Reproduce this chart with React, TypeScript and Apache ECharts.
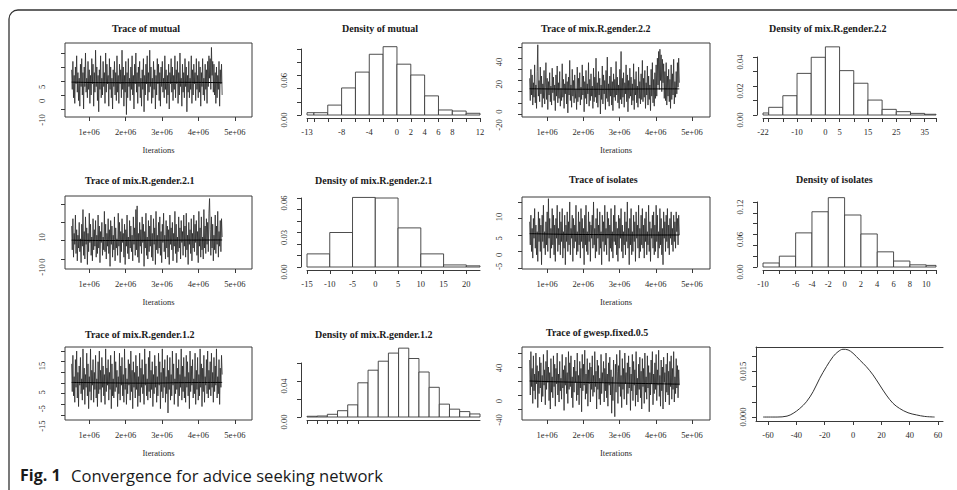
import { useEffect, useRef } from "react";
import * as echarts from "echarts";

// ---------- data ----------
const ITER_FIRST = 520000;
const ITER_LAST = 4650000;
const TRACE_X_TICKS = [1e6, 2e6, 3e6, 4e6, 5e6];

const traceMutual = [
  4, -3, 7, -6, 2, -8, 5, -1, 9, -4, 3, -7, 1, -9, 6, -2, 8, -5, 3, -10,
  5, -2, 10, -4, 1, -6, 7, -3, 4, -8, 2, -5, 8, -1, 6, -9, 3, -4, 11, -2,
  5, -7, 2, -11, 4, -3, 9, -6, 1, -5, 7, -2, 3, -8, 10, -4, 6, -1, 2, -9,
  8, -3, 5, -6, 1, -10, 4, -2, 7, -5, 3, -7, 9, -4, 2, -8, 6, -1, 4, -6,
  11, -3, 5, -9, 2, -4, 7, -12, 3, -6, 8, -2, 1, -7, 5, -3, 9, -5, 2, -10,
  6, -1, 10, -4, 3, -8, 5, -2, 7, -6, 1, -9, 4, -3, 8, -11, 2, -5, 6, -1,
  9, -7, 3, -4, 11, -2, 5, -8, 1, -6, 7, -3, 4, -10, 2, -5, 8, -1, 6, -7,
  3, -9, 5, -2, 7, -4, 1, -6, 9, -3, 4, -8, 2, -5, 6, -10, 3, -1, 8, -4,
  5, -7, 2, -3, 9, -6, 4, -1, 7, -8, 3, -5, 10, -2, 1, -9, 6, -4, 3, -6,
  8, -2, 5, -11, 2, -4, 7, -6, 1, -3, 9, -8, 4, -5, 6, -1, 3, -7, 8, -3,
  2, -6, 7, -4, 5, -9, 3, -2, 8, -5, 1, -7, 6, -3, 4, -8, 7, -2, 9, 1,
  8, -3, 12, 2, 7, -4, 6, -5, 3, -8, 5, -6, 2, -3, 7, -9, 4, -1, 6, -5,
];
const smoothMutual = [-0.4, -0.6, -0.6, -0.5, -0.6];

const traceG22 = [
  12, -8, 20, -3, 15, -12, 8, -5, 24, -10, 6, -15, 18, 42, -4, 10, -9, 22, -2, 14,
  -14, 7, -6, 19, -11, 4, 26, -7, 12, -16, 9, -3, 17, -9, 5, -12, 21, -1, 13, -8,
  6, -17, 15, -4, 23, -10, 8, -6, 18, -13, 3, -8, 25, -5, 11, -15, 7, -2, 16, -11,
  9, -19, 13, -3, 28, -8, 6, -14, 20, -4, 10, -10, 15, -6, 2, -16, 22, -9, 12, -5,
  17, -12, 4, -7, 24, -3, 14, -18, 9, -6, 19, -11, 7, -2, 26, -13, 11, -8, 16, -4,
  5, -15, 21, -9, 13, -5, 30, -10, 8, -14, 18, -3, 12, -20, 6, -7, 23, -11, 15, -2,
  10, -16, 19, -6, 31, -9, 7, -13, 14, -4, 22, -12, 9, -17, 16, -5, 11, -8, 27, -3,
  13, -10, 6, -15, 20, -7, 36, -11, 12, -5, 17, -14, 8, -2, 24, -9, 15, -18, 10, -6,
  21, -4, 13, -12, 7, -8, 25, -16, 11, -3, 18, -10, 5, -14, 22, -6, 9, -11, 16, -7,
  28, -9, 12, -5, 19, -15, 8, -3, 23, -12, 14, -7, 6, -17, 20, -4, 26, -10, 11, -13,
  17, -6, 24, -4, 30, 6, 36, 2, 38, 10, 33, 0, 29, 8, 25, -6, 18, -8, 26, -12,
  14, -4, 20, -9, 11, -15, 24, -7, 16, -3, 29, -11, 9, -5, 18, -2, 26, 4, 30, 8,
];
const smoothG22 = [2.6, 2.3, 2.2, 2.4, 2.5];

const traceG21 = [
  8, -5, 12, -9, 4, -2, 14, -7, 6, -11, 3, -4, 10, -6, 1, -12, 9, -3, 17, -8,
  5, -10, 13, -2, 7, -13, 4, -6, 15, -1, 9, -8, 2, -11, 12, -5, 6, -3, 11, -9,
  3, -7, 14, -4, 8, -12, 5, -1, 10, -8, 2, -5, 16, -6, 9, -10, 4, -3, 12, -7,
  6, -14, 11, -2, 8, -9, 3, -5, 13, -11, 7, -4, 1, -8, 15, -3, 10, -12, 5, -6,
  12, -1, 4, -9, 9, -13, 6, -3, 14, -7, 2, -10, 11, -4, 8, -6, 3, -11, 13, -2,
  7, -8, 17, -5, 19, -9, 4, -12, 10, -3, 6, -7, 13, -1, 9, -14, 5, -4, 15, -8,
  2, -10, 11, -6, 8, -3, 14, -9, 4, -11, 12, -2, 7, -13, 16, -5, 3, -7, 10, -4,
  13, -8, 5, -12, 9, -1, 15, -6, 3, -10, 11, -4, 8, -9, 6, -13, 14, -2, 7, -5,
  10, -11, 4, -3, 16, -7, 9, -12, 2, -6, 13, -4, 7, -10, 11, -1, 5, -8, 14, -3,
  8, -9, 15, -5, 3, -13, 10, -2, 6, -7, 12, -11, 4, -4, 14, -6, 9, -1, 11, -8,
  5, -12, 16, -3, 7, -9, 13, -5, 2, -10, 17, -4, 8, -7, 12, -2, 10, -6, 15, 23,
  6, -8, 13, -4, 9, -11, 3, -5, 14, -7, 8, -2, 16, -9, 5, -3, 11, -6, 12, 2,
];
const smoothG21 = [0.3, 0.1, 0.2, 0.3, 0.4];

const traceIsolates = [
  4, -3, 6, -5, 2, -7, 5, -1, 8, -4, 3, -6, 1, -8, 7, -2, 5, -5, 3, -9,
  6, -2, 9, -4, 1, -6, 4, -3, 7, -5, 11, -1, 5, -7, 2, -4, 8, -3, 6, -6,
  3, -8, 5, -1, 9, -5, 2, -3, 7, -6, 4, -2, 8, -7, 1, -4, 6, -9, 3, -2,
  7, -5, 4, -3, 10, -6, 2, -1, 6, -8, 5, -4, 3, -2, 9, -6, 1, -5, 7, -3,
  4, -7, 8, -2, 5, -4, 2, -9, 6, -3, 9, -5, 1, -6, 7, -2, 4, -8, 3, -1,
  6, -4, 10, -3, 2, -7, 5, -5, 8, -1, 3, -6, 7, -4, 1, -9, 6, -2, 4, -5,
  9, -3, 2, -6, 7, -1, 5, -8, 3, -4, 8, -5, 1, -7, 6, -2, 9, -3, 4, -6,
  2, -8, 6, -4, 5, -1, 8, -5, 3, -7, 1, -3, 7, -6, 4, -2, 10, -4, 2, -9,
  5, -3, 8, -6, 1, -5, 6, -2, 4, -8, 7, -1, 3, -4, 9, -7, 2, -5, 6, -3,
  8, -4, 3, -7, 5, -2, 7, -6, 1, -3, 9, -5, 4, -8, 2, -1, 6, -4, 7, -6,
  3, -5, 9, -2, 6, -7, 1, -4, 8, -3, 5, -6, 2, -9, 7, -1, 4, -5, 6, -2,
  8, -4, 3, -6, 5, -1, 7, -3, 2, -5, 6, -2, 4, -4, 7, 1, 5, -3, 6, 0,
];
const smoothIsolates = [0.4, 0.2, 0.1, 0.0, 0.0];

const traceG12 = [
  9, -4, 13, -6, 3, -9, 11, -2, 15, -7, 5, -11, 8, -1, 12, -5, 2, -8, 16, -3,
  7, -10, 4, -2, 14, -6, 9, -12, 3, -4, 16, -8, 6, -1, 11, -9, 5, -3, 13, -7,
  2, -11, 10, -5, 15, -3, 6, -9, 12, -2, 8, -6, 4, -10, 16, -4, 7, -1, 11, -8,
  5, -3, 13, -12, 9, -6, 2, -7, 15, -4, 10, -2, 6, -11, 3, -5, 14, -8, 8, -1,
  12, -6, 4, -9, 16, -3, 7, -10, 2, -5, 11, -1, 9, -8, 15, -4, 6, -12, 10, -2,
  5, -7, 13, -3, 8, -11, 3, -6, 14, -9, 7, -2, 11, -5, 4, -10, 16, -1, 9, -6,
  2, -8, 12, -4, 15, -7, 6, -3, 10, -11, 4, -5, 13, -2, 8, -9, 3, -6, 14, -1,
  10, -12, 5, -4, 16, -7, 7, -2, 11, -9, 3, -5, 13, -14, 6, -3, 12, -8, 4, -6,
  15, -1, 9, -10, 2, -5, 14, -3, 7, -11, 11, -6, 4, -2, 16, -8, 8, -4, 12, -7,
  3, -9, 13, -2, 10, -6, 5, -12, 15, -4, 8, -1, 11, -7, 2, -5, 14, -10, 6, -3,
  12, -8, 4, -6, 16, -2, 9, -11, 7, -4, 13, -9, 3, -1, 11, -5, 15, -7, 6, -3,
  10, -6, 14, -2, 5, -9, 12, -4, 8, -1, 16, -7, 3, -5, 11, -10, 7, -2, 13, 4,
];
const smoothG12 = [0.3, 0.1, 0.0, 0.2, 0.3];

const traceGwesp = [
  30, -20, 42, -8, 18, -32, 36, -14, 10, -26, 40, -4, 22, -38, 14, -18, 34, -10, 26, -30,
  8, -22, 38, -6, 16, -34, 28, -12, 44, -2, 20, -28, 12, -40, 32, -16, 6, -24, 36, -8,
  24, -36, 18, -4, 40, -20, 10, -30, 28, -14, 4, -26, 38, -10, 16, -42, 22, -6, 34, -18,
  12, -32, 42, -12, 26, -8, 36, -24, 6, -38, 20, -16, 30, -2, 14, -28, 40, -20, 8, -34,
  28, -10, 18, -44, 38, -14, 24, -6, 44, -26, 10, -18, 32, -36, 16, -4, 26, -30, 20, -12,
  36, -22, 8, -16, 42, -8, 14, -40, 30, -12, 22, -26, 4, -34, 38, -18, 12, -2, 28, -30,
  18, -14, 40, -24, 10, -36, 26, -6, 34, -20, 16, -46, 6, -28, 30, -10, -51, 24, -16, 38,
  14, -32, 22, -8, 44, -22, 8, -38, 32, -12, 18, -26, 40, -4, 12, -34, 26, -18, 36, -10,
  20, -42, 10, -14, 38, -28, 28, -6, 16, -36, 42, -20, 4, -30, 24, -12, 34, -24, 14, -40,
  32, -8, 18, -32, 40, -16, 6, -26, 36, -10, 22, -44, 12, -20, 30, -4, 42, -34, 10, -18,
  26, -12, 38, -28, 16, -6, 44, -22, 8, -36, 30, -14, 20, -40, 34, -2, 12, -30, 24, -16,
  40, -20, 14, -34, 28, -8, 36, -26, 18, -12, 42, -30, 6, -18, 32, -10, 22, -24, 16, -6,
];
const smoothGwesp = [0, -1.5, -2.5, -3.5, -4.5];

// histograms: bin edges and densities
const edgesMutual = [-13, -12, -10, -8, -6, -4, -2, 0, 2, 4, 6, 8, 10, 12];
const densMutual = [0.0035, 0.0035, 0.015, 0.041, 0.065, 0.092, 0.1035, 0.077, 0.0606, 0.029, 0.0076, 0.006, 0.0026];
const xTicksMutual = [-13, -12, -10, -8, -6, -4, -2, 0, 2, 4, 6, 8, 10, 12];
const xLabelsMutual = [-13, -8, -4, 0, 2, 4, 6, 8, 12];
const yTicksMutual = [0, 0.02, 0.04, 0.06, 0.08, 0.1];
const yLabelsMutual = [0, 0.06];

const edgesG22 = [-22, -20, -15, -10, -5, 0, 5, 10, 15, 20, 25, 30, 35, 39];
const densG22 = [0.0014, 0.0053, 0.0133, 0.0287, 0.0398, 0.047, 0.0306, 0.0219, 0.0103, 0.0039, 0.0023, 0.0011, 0.0005];
const xTicksG22 = [-22, -20, -15, -10, -5, 0, 5, 10, 15, 20, 25, 30, 35, 39];
const xLabelsG22 = [-22, -10, 0, 5, 15, 25, 35];
const yTicksG22 = [0, 0.01, 0.02, 0.03, 0.04];
const yLabelsG22 = [0, 0.02, 0.04];

const edgesG21 = [-15, -10, -5, 0, 5, 10, 15, 20, 23];
const densG21 = [0.0114, 0.03, 0.0605, 0.06, 0.034, 0.0114, 0.0018, 0.001];
const xTicksG21 = [-15, -10, -5, 0, 5, 10, 15, 20];
const xLabelsG21 = [-15, -10, -5, 0, 5, 10, 15, 20];
const yTicksG21 = [0, 0.01, 0.02, 0.03, 0.04, 0.05, 0.06];
const yLabelsG21 = [0, 0.03, 0.06];

const edgesIsolates = [-10, -8, -6, -4, -2, 0, 2, 4, 6, 8, 10, 11.2];
const densIsolates = [0.0074, 0.02, 0.063, 0.102, 0.128, 0.096, 0.061, 0.028, 0.011, 0.004, 0.003];
const xTicksIsolates = [-10, -8, -6, -4, -2, 0, 2, 4, 6, 8, 10, 11.2];
const xLabelsIsolates = [-10, -6, -4, -2, 0, 2, 4, 6, 8, 10];
const yTicksIsolates = [0, 0.02, 0.04, 0.06, 0.08, 0.1, 0.12];
const yLabelsIsolates = [0, 0.06, 0.12];

const edgesG12 = [-14, -12, -10, -8, -6, -4, -2, 0, 2, 4, 6, 8, 10, 12, 14, 16, 18, 20];
const densG12 = [0.0008, 0.0011, 0.003, 0.007, 0.0135, 0.038, 0.052, 0.062, 0.071, 0.0765, 0.065, 0.05, 0.033, 0.0143, 0.0087, 0.006, 0.0034];
const xTicksG12 = [-14, -12, -10, -8, -6, -4];
const yTicksG12 = [0, 0.02, 0.04, 0.06];
const yLabelsG12 = [0, 0.04];

const gwespDensX = [-63.5, -53.6, -46.6, -42.3, -37.6, -32.9, -28.2, -23.5, -18.8, -14.1, -10.6, -7.1, -3.5, 0, 4.7, 9.4, 14.1, 18.8, 23.5, 28.2, 32.9, 38.8, 44.7, 50.6, 57.6];
const gwespDensY = [0, 0, 0.0003, 0.0012, 0.0028, 0.005, 0.0083, 0.0127, 0.0165, 0.0198, 0.0214, 0.0222, 0.022, 0.0209, 0.0187, 0.0165, 0.0138, 0.0105, 0.0072, 0.0045, 0.0028, 0.0014, 0.0007, 0.0002, 0];
const xTicksGwesp = [-60, -40, -20, 0, 20, 40, 60];
const yTicksGwesp = [0, 0.005, 0.01, 0.015, 0.02];
const yLabelsGwesp = [0, 0.015];

// ---------- styling ----------
const FONT = "'Liberation Serif', 'DejaVu Serif', serif";
const SANS = "'Open Sans', 'Noto Sans', sans-serif";
const INK = "#3a3a3a";
const TXT = "#2a2a2a";
const FS = 8.5;

function richStyle(pad: number) {
  return { fontSize: FS, fontFamily: FONT, color: TXT, padding: [0, pad, 0, 0] };
}
const RICH = { s1: richStyle(40), s2: richStyle(30), s3: richStyle(22), s4: richStyle(10), s5: richStyle(0) };
function shifted(t: string) {
  return `{s${Math.min(t.length, 5)}|${t}}`;
}

type Trace = {
  title: string; values: number[]; smooth: number[];
  rect: number[]; xr: number[]; yr: number[]; yTicks: number[]; yLabels: number[];
  tx: number; ty: number;
};
type Hist = {
  title: string; edges: number[]; dens: number[]; rect: number[]; xr: number[]; yr: number[];
  xTicks: number[]; xLabels: number[]; yTicks: number[]; yLabels: number[]; tx: number; ty: number;
};

const traces: Trace[] = [
  { title: "Trace of mutual", values: traceMutual, smooth: smoothMutual, rect: [65, 43, 187, 74], xr: [338000, 5469000], yr: [-12.86, 13.57], yTicks: [-10, -5, 0, 5, 10], yLabels: [-10, 0, 5], tx: 112, ty: 28 },
  { title: "Trace of mix.R.gender.2.2", values: traceG22, smooth: smoothG22, rect: [522, 43, 188, 74], xr: [309000, 5497000], yr: [-22.7, 43.6], yTicks: [-20, -10, 0, 10, 20, 30, 40], yLabels: [-20, 0, 20, 40], tx: 541, ty: 28 },
  { title: "Trace of mix.R.gender.2.1", values: traceG21, smooth: smoothG21, rect: [65, 196, 187, 73], xr: [338000, 5469000], yr: [-15.45, 24.4], yTicks: [-10, 0, 10, 20], yLabels: [-10, 0, 10], tx: 85, ty: 180 },
  { title: "Trace of isolates", values: traceIsolates, smooth: smoothIsolates, rect: [522, 197, 188, 72], xr: [309000, 5497000], yr: [-10.3, 11.5], yTicks: [-10, -5, 0, 5, 10], yLabels: [-5, 0, 5, 10], tx: 569, ty: 179 },
  { title: "Trace of mix.R.gender.1.2", values: traceG12, smooth: smoothG12, rect: [65, 347, 187, 73], xr: [338000, 5469000], yr: [-17.3, 16.9], yTicks: [-15, -10, -5, 0, 5, 10, 15], yLabels: [-15, -5, 5, 15], tx: 85, ty: 334 },
  { title: "Trace of gwesp.fixed.0.5", values: traceGwesp, smooth: smoothGwesp, rect: [522, 347, 188, 73], xr: [309000, 5497000], yr: [-55.7, 48.6], yTicks: [-40, -20, 0, 20, 40], yLabels: [-40, 0, 40], tx: 546, ty: 332 },
];

const hists: Hist[] = [
  { title: "Density of mutual", edges: edgesMutual, dens: densMutual, rect: [307, 49, 173, 66], xr: [-13, 12], yr: [0, 0.1], xTicks: xTicksMutual, xLabels: xLabelsMutual, yTicks: yTicksMutual, yLabels: yLabelsMutual, tx: 342, ty: 28 },
  { title: "Density of mix.R.gender.2.2", edges: edgesG22, dens: densG22, rect: [763, 57, 173, 58], xr: [-22, 39], yr: [0, 0.04], xTicks: xTicksG22, xLabels: xLabelsG22, yTicks: yTicksG22, yLabels: yLabelsG22, tx: 769, ty: 28 },
  { title: "Density of mix.R.gender.2.1", edges: edgesG21, dens: densG21, rect: [307, 198, 173, 69], xr: [-15, 23], yr: [0, 0.06], xTicks: xTicksG21, xLabels: xLabelsG21, yTicks: yTicksG21, yLabels: yLabelsG21, tx: 315, ty: 180 },
  { title: "Density of isolates", edges: edgesIsolates, dens: densIsolates, rect: [763, 202, 173, 65], xr: [-10, 11.2], yr: [0, 0.12], xTicks: xTicksIsolates, xLabels: xLabelsIsolates, yTicks: yTicksIsolates, yLabels: yLabelsIsolates, tx: 796, ty: 179 },
  { title: "Density of mix.R.gender.1.2", edges: edgesG12, dens: densG12, rect: [307, 363, 173, 54], xr: [-14, 20], yr: [0, 0.06], xTicks: xTicksG12, xLabels: [], yTicks: yTicksG12, yLabels: yLabelsG12, tx: 315, ty: 334 },
];

function buildOption() {
  const grid: any[] = [];
  const xAxis: any[] = [];
  const yAxis: any[] = [];
  const series: any[] = [];
  const graphic: any[] = [];
  const tickStyle = { color: INK, width: 1 };
  const labelBase = { fontSize: FS, fontFamily: FONT, color: TXT };
  const titleStyle = { fontSize: 10, fontWeight: "bold", fontFamily: FONT, fill: "#1a1a1a", verticalAlign: "middle", align: "left" };

  traces.forEach((p) => {
    const gi = grid.length;
    grid.push({ left: p.rect[0], top: p.rect[1], width: p.rect[2], height: p.rect[3], show: true, borderColor: INK, borderWidth: 1, backgroundColor: "#fff", containLabel: false, outerBoundsMode: "none" });
    const xi = xAxis.length;
    xAxis.push({
      type: "value", gridIndex: gi, min: p.xr[0], max: p.xr[1],
      axisLine: { show: false, onZero: false }, splitLine: { show: false },
      axisTick: { show: true, inside: false, length: 4, lineStyle: tickStyle, customValues: TRACE_X_TICKS },
      axisLabel: { ...labelBase, margin: 10, customValues: TRACE_X_TICKS, formatter: (v: number) => `${Math.round(v / 1e6)}e+06` },
      name: "Iterations", nameLocation: "middle", nameGap: 28,
      nameTextStyle: { ...labelBase },
    });
    const yi = yAxis.length;
    yAxis.push({
      type: "value", gridIndex: gi, min: p.yr[0], max: p.yr[1],
      axisLine: { show: false, onZero: false }, splitLine: { show: false },
      axisTick: { show: true, inside: false, length: 4, lineStyle: tickStyle, customValues: p.yTicks },
      axisLabel: { ...labelBase, rotate: 90, margin: 19, customValues: p.yLabels, formatter: (v: number) => shifted(String(v)), rich: RICH },
    });
    const n = p.values.length;
    const step = (ITER_LAST - ITER_FIRST) / (n - 1);
    series.push({
      type: "line", xAxisIndex: xi, yAxisIndex: yi, symbol: "none", silent: true,
      lineStyle: { width: 0.8, color: "#2a2a2a" },
      data: p.values.map((v, i) => [ITER_FIRST + i * step, v]),
    });
    const sstep = (ITER_LAST - ITER_FIRST) / (p.smooth.length - 1);
    series.push({
      type: "line", xAxisIndex: xi, yAxisIndex: yi, symbol: "none", silent: true, smooth: true,
      lineStyle: { width: 1, color: "#000" }, z: 3,
      data: p.smooth.map((v, i) => [ITER_FIRST + i * sstep, v]),
    });
    graphic.push({ type: "text", x: p.tx, y: p.ty, silent: true, style: { text: p.title, ...titleStyle } });
  });

  hists.forEach((p) => {
    const gi = grid.length;
    grid.push({ left: p.rect[0], top: p.rect[1], width: p.rect[2], height: p.rect[3], show: false, containLabel: false, outerBoundsMode: "none" });
    const xi = xAxis.length;
    xAxis.push({
      type: "value", gridIndex: gi, min: p.xr[0], max: p.xr[1], offset: 3,
      axisLine: { show: true, onZero: false, lineStyle: tickStyle }, splitLine: { show: false },
      axisTick: { show: true, inside: false, length: 4, lineStyle: tickStyle, customValues: p.xTicks },
      axisLabel: { ...labelBase, show: p.xLabels.length > 0, margin: 9, customValues: p.xLabels.length ? p.xLabels : [p.xr[0]], formatter: (v: number) => String(v) },
    });
    const yi = yAxis.length;
    yAxis.push({
      type: "value", gridIndex: gi, min: p.yr[0], max: p.yr[1], offset: 6,
      axisLine: { show: true, onZero: false, lineStyle: tickStyle }, splitLine: { show: false },
      axisTick: { show: true, inside: false, length: 4, lineStyle: tickStyle, customValues: p.yTicks },
      axisLabel: { ...labelBase, rotate: 90, margin: 13, customValues: p.yLabels, formatter: (v: number) => shifted(v.toFixed(2)), rich: RICH },
    });
    series.push({
      type: "custom", xAxisIndex: xi, yAxisIndex: yi, clip: false, silent: true,
      encode: { x: [0, 1], y: 2 },
      data: p.dens.map((d, i) => [p.edges[i], p.edges[i + 1], d]),
      renderItem: (_params: any, api: any) => {
        const a = api.coord([api.value(0), 0]);
        const b = api.coord([api.value(1), api.value(2)]);
        return {
          type: "rect",
          shape: { x: a[0], y: b[1], width: b[0] - a[0], height: a[1] - b[1] },
          style: { fill: "#fff", stroke: INK, lineWidth: 0.9 },
        };
      },
    });
    graphic.push({ type: "text", x: p.tx, y: p.ty, silent: true, style: { text: p.title, ...titleStyle } });
  });

  // smooth density panel of gwesp
  {
    const gi = grid.length;
    grid.push({ left: 756, top: 347, width: 187, height: 74, show: false, containLabel: false, outerBoundsMode: "none" });
    const xi = xAxis.length;
    xAxis.push({
      type: "value", gridIndex: gi, min: -68.5, max: 63.5,
      axisLine: { show: true, onZero: false, lineStyle: tickStyle }, splitLine: { show: false },
      axisTick: { show: true, inside: false, length: 4, lineStyle: tickStyle, customValues: xTicksGwesp },
      axisLabel: { ...labelBase, margin: 9, customValues: xTicksGwesp, formatter: (v: number) => String(v) },
    });
    xAxis.push({
      type: "value", gridIndex: gi, position: "top", min: -68.5, max: 63.5,
      axisLine: { show: true, onZero: false, lineStyle: tickStyle }, splitLine: { show: false },
      axisTick: { show: false }, axisLabel: { show: false },
    });
    const yi = yAxis.length;
    yAxis.push({
      type: "value", gridIndex: gi, min: -0.0013, max: 0.02295,
      axisLine: { show: true, onZero: false, lineStyle: tickStyle }, splitLine: { show: false },
      axisTick: { show: true, inside: false, length: 4, lineStyle: tickStyle, customValues: yTicksGwesp },
      axisLabel: { ...labelBase, rotate: 90, margin: 9, customValues: yLabelsGwesp, formatter: (v: number) => shifted(v.toFixed(3)), rich: RICH },
    });
    series.push({
      type: "line", xAxisIndex: xi, yAxisIndex: yi, symbol: "none", smooth: 0.35, silent: true,
      lineStyle: { width: 1, color: "#333" },
      data: gwespDensX.map((x, i) => [x, gwespDensY[i]]),
    });
  }

  // figure frame and caption
  graphic.push({
    type: "rect", silent: true, z: 100,
    shape: { x: 9, y: 10, width: 1200, height: 700, r: [9, 0, 0, 0] },
    style: { fill: "none", stroke: "#333", lineWidth: 1.3 },
  });
  graphic.push({ type: "text", x: 20, y: 475, silent: true, style: { text: "Fig. 1", fontSize: 16, fontWeight: "bold", fontFamily: SANS, fill: "#1a1a1a", verticalAlign: "middle" } });
  graphic.push({ type: "text", x: 71, y: 475, silent: true, style: { text: "Convergence for advice seeking network", fontSize: 16.6, fontFamily: SANS, fill: "#1a1a1a", verticalAlign: "middle" } });

  return {
    animation: false,
    backgroundColor: "#fff",
    textStyle: { fontFamily: FONT },
    grid, xAxis, yAxis, series, graphic,
  };
}

export default function App() {
  const ref = useRef<HTMLDivElement>(null);
  useEffect(() => {
    if (!ref.current) return;
    const chart = echarts.init(ref.current, undefined, { renderer: "svg" });
    chart.setOption(buildOption() as any);
    return () => chart.dispose();
  }, []);
  return (
    <div
      ref={ref}
      style={{ position: "fixed", left: 0, top: 0, width: 957, height: 490, background: "#fff" }}
    />
  );
}
